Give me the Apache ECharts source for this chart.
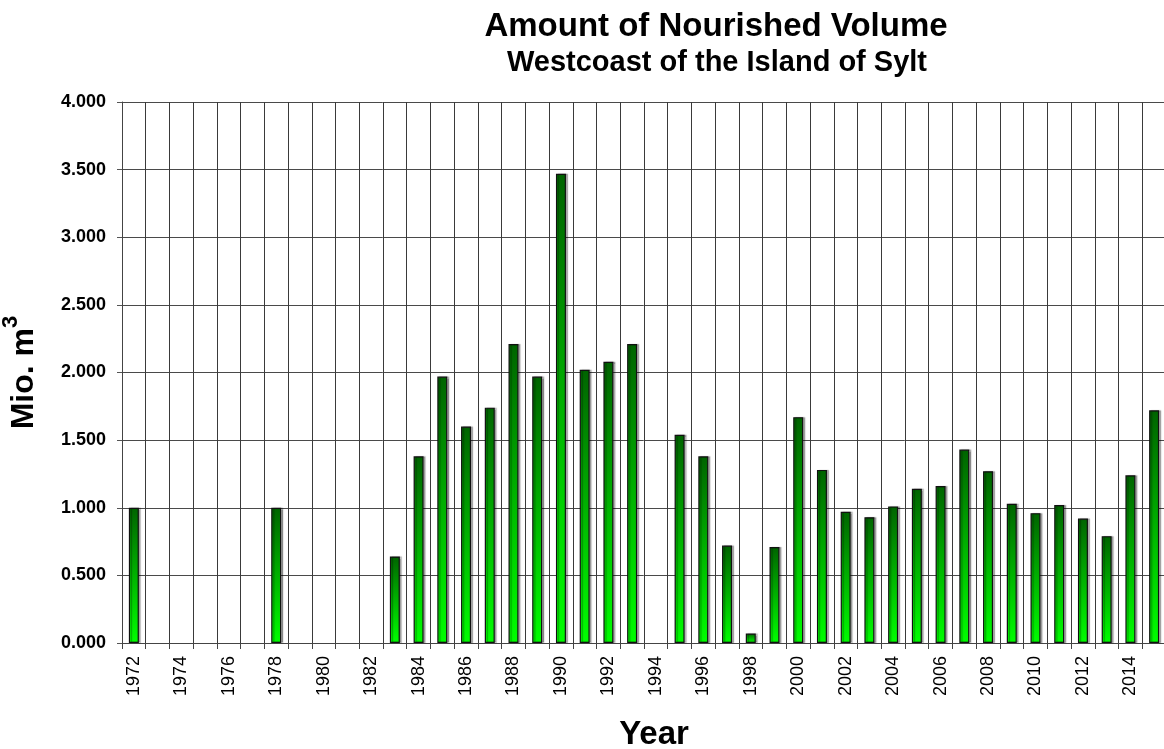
<!DOCTYPE html>
<html>
<head>
<meta charset="utf-8">
<title>Amount of Nourished Volume</title>
<script src="https://cdn.jsdelivr.net/npm/echarts@6/dist/echarts.min.js"></script>
<style>
  html, body { margin: 0; padding: 0; background: #ffffff; }
  #chart { width: 1164px; height: 749px; }
</style>
</head>
<body>
<div id="chart"></div>
<script>
// years on the x axis, 1972..2015
const years = [
  '1972', '1973', '1974', '1975', '1976', '1977', '1978', '1979', '1980', '1981',
  '1982', '1983', '1984', '1985', '1986', '1987', '1988', '1989', '1990', '1991',
  '1992', '1993', '1994', '1995', '1996', '1997', '1998', '1999', '2000', '2001',
  '2002', '2003', '2004', '2005', '2006', '2007', '2008', '2009', '2010', '2011',
  '2012', '2013', '2014', '2015'
];

// nourished volume in Mio. m3 ('-' = no nourishment that year)
const volumes = [
  1.00, '-', '-', '-', '-', '-', 1.00, '-', '-', '-',
  '-', 0.64, 1.38, 1.97, 1.60, 1.74, 2.21, 1.97, 3.47, 2.02,
  2.08, 2.21, '-', 1.54, 1.38, 0.72, 0.07, 0.71, 1.67, 1.28,
  0.97, 0.93, 1.01, 1.14, 1.16, 1.43, 1.27, 1.03, 0.96, 1.02,
  0.92, 0.79, 1.24, 1.72
];

const yTicks = { min: 0, max: 4, interval: 0.5 };

const titleText = 'Amount of Nourished Volume';
const subTitleText = 'Westcoast of the Island of Sylt';

function initChart() {
  const chartDom = document.getElementById('chart');
  const myChart = echarts.init(chartDom, null, { renderer: 'canvas' });
  renderChart(myChart);
}

function renderChart(myChart) {
  const font = '"Liberation Sans", Arial, sans-serif';
  const option = {
    animation: false,
    backgroundColor: '#ffffff',
    grid: {
      left: 122,
      top: 102,
      bottom: 106,
      width: 1044,   // plot runs a little past the right edge, like the original
      containLabel: false,
      outerBoundsMode: 'none'
    },
    graphic: [
      {
        type: 'text',
        x: 716, y: 27,
        style: { text: titleText, font: 'bold 33px ' + font, fill: '#000', textAlign: 'center', textVerticalAlign: 'middle' }
      },
      {
        type: 'text',
        x: 717, y: 63,
        style: { text: subTitleText, font: 'bold 29px ' + font, fill: '#000', textAlign: 'center', textVerticalAlign: 'middle' }
      },
      {
        type: 'text',
        x: 654, y: 735,
        style: { text: 'Year', font: 'bold 33px ' + font, fill: '#000', textAlign: 'center', textVerticalAlign: 'middle' }
      }
    ],
    xAxis: {
      type: 'category',
      data: years,
      boundaryGap: true,
      axisLine: { lineStyle: { color: '#444', width: 1 } },
      axisTick: { show: true, length: 6, interval: 0, lineStyle: { color: '#444' } },
      axisLabel: {
        interval: 1,
        rotate: 90,
        margin: 13,
        color: '#000',
        fontFamily: font,
        fontSize: 18
      },
      splitLine: {
        show: true,
        interval: 0,
        lineStyle: { color: '#3a3a3a', width: 1, type: 'solid' }
      }
    },
    yAxis: {
      type: 'value',
      min: yTicks.min,
      max: yTicks.max,
      interval: yTicks.interval,
      name: '{b|Mio. m}{s|3}',
      nameLocation: 'middle',
      nameRotate: 90,
      nameGap: 82,
      nameTextStyle: {
        rich: {
          b: { fontFamily: font, fontWeight: 'bold', fontSize: 32, color: '#000', lineHeight: 40, verticalAlign: 'bottom' },
          s: { fontFamily: font, fontWeight: 'bold', fontSize: 22, color: '#000', lineHeight: 40, verticalAlign: 'top' }
        }
      },
      axisLine: { show: true, lineStyle: { color: '#444', width: 1 } },
      axisTick: { show: true, length: 5, lineStyle: { color: '#555' } },
      axisLabel: {
        margin: 16,
        color: '#000',
        fontFamily: font,
        fontWeight: 'bold',
        fontSize: 18,
        formatter: function (v) { return v.toFixed(3); }
      },
      splitLine: {
        show: true,
        lineStyle: { color: '#4a4a4a', width: 1, type: 'solid' }
      }
    },
    series: [{
      type: 'bar',
      data: volumes,
      barWidth: 10,
      itemStyle: {
        // dark green at the top, bright green at the bottom of each bar
        color: new echarts.graphic.LinearGradient(0, 0, 0, 1, [
          { offset: 0, color: '#006400' },
          { offset: 1, color: '#00ff00' }
        ]),
        borderColor: '#111',
        borderWidth: 1.2,
        shadowColor: 'rgba(0, 0, 0, 0.3)',
        shadowOffsetX: 2,
        shadowBlur: 1
      }
    }]
  };
  myChart.setOption(option);
}

initChart();
</script>
</body>
</html>
